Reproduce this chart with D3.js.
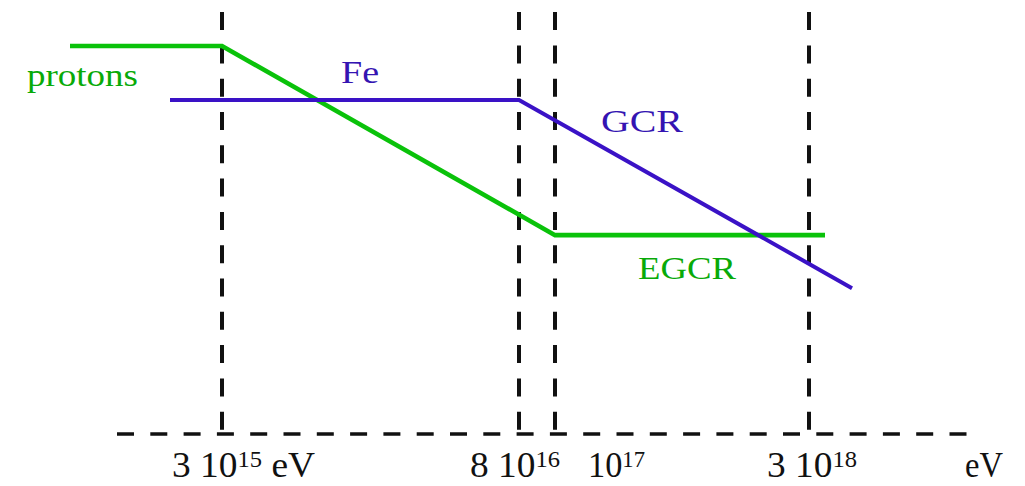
<!DOCTYPE html>
<html>
<head>
<meta charset="utf-8">
<script src="https://cdn.jsdelivr.net/npm/d3@7"></script>
<style>
  html, body { margin: 0; padding: 0; background: #fff; }
  svg { display: block; }
  text { font-family: "Liberation Serif", "Times New Roman", serif; }
</style>
</head>
<body>
<svg id="chart" width="1025" height="486"></svg>
<script>
// Schematic cosmic-ray knee picture: energy (schematic units) vs. flux (arbitrary log units)

// Break energies marked by vertical dashed lines
const markerPos = [22.2, 51.9, 55.5, 80.9];
const markerMantissa = ["3 ", "8 ", "", "3 "];
const markerExponent = ["15", "16", "17", "18"];
const markerUnit = [" eV", "", "", ""];

// Proton / extragalactic component
const protonsX = [7.0, 22.2, 55.5, 82.5];
const protonsY = [9.15, 9.15, 4.69, 4.69];

// Iron / galactic component
const ironX = [17.0, 51.9, 85.2];
const ironY = [7.88, 7.88, 3.44];

// Curve labels
const labelText = ["protons", "Fe", "GCR", "EGCR"];
const labelX = [2.7, 34.1, 60.1, 63.8];
const labelY = [8.20, 8.27, 7.12, 3.65];
const labelSeries = ["p", "fe", "fe", "p"];

// Axis extent
const axisStart = 11.7, axisEnd = 96.8, markerTop = 9.95;

const colors = { p: "#0ac20a", fe: "#3a12c6" };
const textColors = { p: "#08aa08", fe: "#3414b2" };

const svg = d3.select("#chart");
const x = d3.scaleLinear().domain([0, 100]).range([0, 1000]);
const y = d3.scaleLinear().domain([0, 10]).range([434, 10]);

// Horizontal dashed energy axis
svg.append("line")
  .attr("x1", x(axisStart)).attr("x2", x(axisEnd))
  .attr("y1", y(0)).attr("y2", y(0))
  .attr("stroke", "#111").attr("stroke-width", 3.6)
  .attr("stroke-dasharray", "17,16.3");

// Vertical dashed markers
svg.selectAll("line.marker").data(markerPos).join("line")
  .attr("class", "marker")
  .attr("x1", d => x(d)).attr("x2", d => x(d))
  .attr("y1", y(markerTop)).attr("y2", y(0))
  .attr("stroke", "#111").attr("stroke-width", 4)
  .attr("stroke-dasharray", "18,15.3");

// Spectra
const line = d3.line().x(d => x(d[0])).y(d => y(d[1]));
svg.append("path")
  .datum(protonsX.map((v, i) => [v, protonsY[i]]))
  .attr("d", line).attr("fill", "none")
  .attr("stroke", colors.p).attr("stroke-width", 4.6)
  .attr("stroke-linejoin", "miter");
svg.append("path")
  .datum(ironX.map((v, i) => [v, ironY[i]]))
  .attr("d", line).attr("fill", "none")
  .attr("stroke", colors.fe).attr("stroke-width", 4)
  .attr("stroke-linejoin", "miter");

// Stretch text horizontally to a target width
function fitWidth(sel, width) {
  sel.each(function () {
    const t = d3.select(this);
    const w = this.getComputedTextLength();
    const tx = +t.attr("data-x"), ty = +t.attr("data-y");
    t.attr("transform", `translate(${tx},${ty}) scale(${width / w},1)`);
  });
}

// Curve labels
const labelWidth = [111, 38, 82, 98];
labelText.forEach((s, i) => {
  const t = svg.append("text")
    .attr("data-x", x(labelX[i])).attr("data-y", y(labelY[i]))
    .attr("font-size", 32.5)
    .attr("fill", textColors[labelSeries[i]])
    .text(s);
  fitWidth(t, labelWidth[i]);
});

// Energy tick labels with superscript exponents
const tickOffset = [-50, -49, 33, -42];
const tickWidth = [143, 90, 57, 90];
markerPos.forEach((p, i) => {
  const t = svg.append("text")
    .attr("data-x", x(p) + tickOffset[i]).attr("data-y", 477)
    .attr("font-size", 35).attr("fill", "#111");
  t.append("tspan").text(markerMantissa[i] + "10");
  t.append("tspan").attr("font-size", 23).attr("dy", -10).text(markerExponent[i]);
  if (markerUnit[i]) t.append("tspan").attr("dy", 10).text(markerUnit[i]);
  fitWidth(t, tickWidth[i]);
});

// Axis unit
const unit = svg.append("text")
  .attr("data-x", 965).attr("data-y", 477)
  .attr("font-size", 35).attr("fill", "#111").text("eV");
fitWidth(unit, 38);
</script>
</body>
</html>
